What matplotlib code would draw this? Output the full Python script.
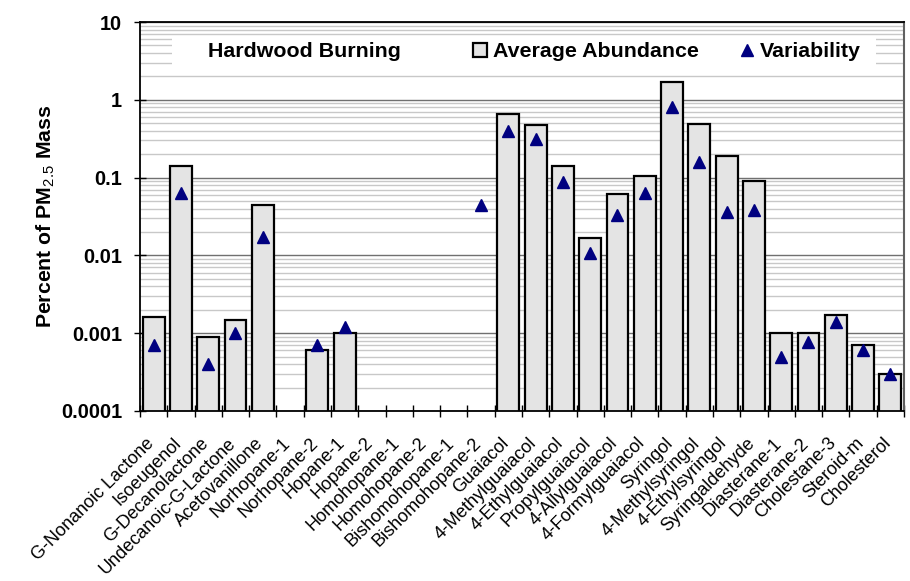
import numpy as np
import matplotlib.pyplot as plt
import matplotlib.transforms as mtransforms
from matplotlib.patches import Rectangle, Patch
from matplotlib.lines import Line2D
from matplotlib.ticker import LogLocator, FixedLocator, NullFormatter

plt.rcParams['font.family'] = 'Liberation Sans'
plt.rcParams['mathtext.fontset'] = 'custom'
plt.rcParams['mathtext.rm'] = 'Liberation Sans'
plt.rcParams['mathtext.bf'] = 'Liberation Sans:bold'

species = ['G-Nonanoic Lactone', 'Isoeugenol', 'G-Decanolactone', 'Undecanoic-G-Lactone',
           'Acetovanillone', 'Norhopane-1', 'Norhopane-2', 'Hopane-1', 'Hopane-2',
           'Homohopane-1', 'Homohopane-2', 'Bishomohopane-1', 'Bishomohopane-2',
           'Guaiacol', '4-Methylguaiacol', '4-Ethylguaiacol', 'Propylguaiacol',
           '4-Allylguaiacol', '4-Formylguaiacol', 'Syringol', '4-Methylsyringol',
           '4-Ethylsyringol', 'Syringaldehyde', 'Diasterane-1', 'Diasterane-2',
           'Cholestane-3', 'Steroid-m', 'Cholesterol']

nan = np.nan
# percent of PM2.5 mass
abundance = np.array([0.0016, 0.14, 0.0009, 0.0015, 0.044, nan, 0.0006, 0.001, nan,
                      nan, nan, nan, nan, 0.65, 0.47, 0.14, 0.0165, 0.061, 0.105,
                      1.68, 0.49, 0.19, 0.091, 0.001, 0.001, 0.0017, 0.0007, 0.0003])
variability = np.array([0.0007, 0.064, 0.0004, 0.001, 0.017, nan, 0.0007, 0.0012, nan,
                        nan, nan, nan, 0.044, 0.40, 0.31, 0.089, 0.0106, 0.033, 0.063,
                        0.80, 0.16, 0.036, 0.038, 0.0005, 0.00078, 0.0014, 0.0006, 0.0003])
ytick_labels = ['0.0001', '0.001', '0.01', '0.1', '1', '10']

bar_color = '#e4e4e4'
marker_color = '#000080'

fig = plt.figure(figsize=(9.1, 5.81), dpi=100)
ax = fig.add_axes([0.1538, 0.2926, 0.8396, 0.6695])
ax.set_yscale('log')

x = np.arange(len(species))
has_bar = ~np.isnan(abundance)
ax.bar(x[has_bar], abundance[has_bar], width=0.8, color=bar_color,
       edgecolor='black', linewidth=1.6, zorder=2)
has_var = ~np.isnan(variability)
ax.plot(x[has_var], variability[has_var], ls='none', marker='^', ms=9,
        color=marker_color, zorder=3)

ax.set_xlim(-0.5, len(species) - 0.5)
ax.set_ylim(1e-4, 10)

# y axis: decades with light minor gridlines
ax.set_yticks([float(t) for t in ytick_labels])
ax.set_yticklabels(ytick_labels, fontsize=14.3, fontweight='bold')
ax.yaxis.set_minor_locator(LogLocator(base=10, subs=np.arange(2, 10), numticks=20))
ax.yaxis.set_minor_formatter(NullFormatter())
ax.tick_params(axis='y', which='major', direction='inout', length=8, width=1, pad=9)
ax.tick_params(axis='y', which='minor', length=0)
ax.yaxis.grid(True, which='major', color='#707070', lw=1)
ax.yaxis.grid(True, which='minor', color='#c8c8c8', lw=1)
ax.set_axisbelow(True)

# x axis: labels at categories, ticks between categories
ax.set_xticks(x)
ax.set_xticklabels(species, fontsize=13, rotation=45, ha='right', va='top',
                   rotation_mode='anchor')
ax.xaxis.set_minor_locator(FixedLocator(np.arange(-0.5, len(species), 1)))
ax.tick_params(axis='x', which='major', length=0, pad=17)
ax.tick_params(axis='x', which='minor', direction='inout', length=8, width=1)
shift = mtransforms.ScaledTranslation(-0.08, 0, fig.dpi_scale_trans)
for lbl in ax.get_xticklabels():
    lbl.set_transform(lbl.get_transform() + shift)

for side in ['left', 'bottom', 'top']:
    ax.spines[side].set_color('black')
    ax.spines[side].set_linewidth(1.3)
ax.spines['right'].set_color('#606060')
ax.spines['right'].set_linewidth(1.5)

ax.set_ylabel(r'Percent of PM$_{\rm 2.5}$ Mass', fontsize=15.3, fontweight='bold',
              labelpad=3)

# white panel behind the title and legend
ax.add_patch(Rectangle((0.0419, 0.877), 0.9211, 0.087, transform=ax.transAxes,
                       facecolor='white', edgecolor='none', zorder=1))
ax.text(0.2147, 0.923, 'Hardwood Burning', transform=ax.transAxes, ha='center',
        va='center', fontsize=15.4, fontweight='bold', zorder=4)

handles = [Patch(facecolor=bar_color, edgecolor='black', linewidth=1.6),
           Line2D([], [], ls='none', marker='^', ms=9, color=marker_color)]
leg = ax.legend(handles, ['Average Abundance', 'Variability'], ncol=2,
                loc='center left', bbox_to_anchor=(0.436, 0.923), frameon=False,
                borderpad=0, borderaxespad=0, handlelength=0.65, handleheight=0.65,
                handletextpad=0.3, columnspacing=1.9,
                prop={'size': 15.4, 'weight': 'bold'})
leg.set_zorder(4)

fig.savefig('out.png', dpi=100)
